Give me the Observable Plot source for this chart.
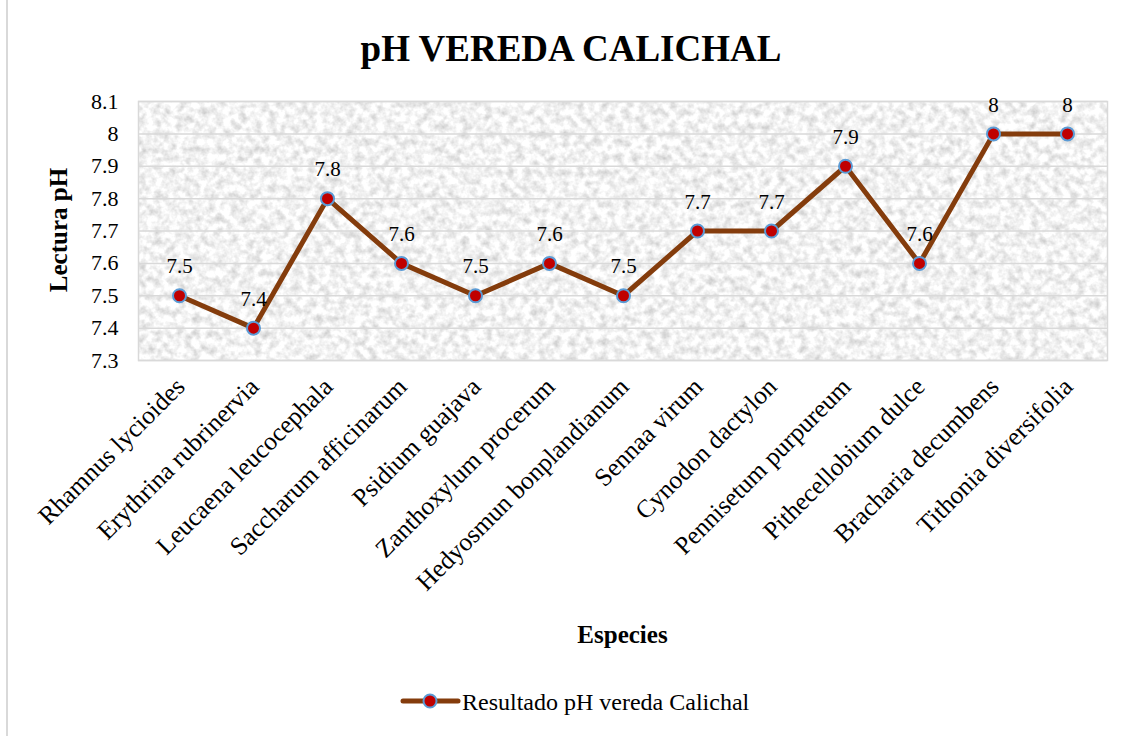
<!DOCTYPE html>
<html><head><meta charset="utf-8">
<script src="https://cdn.jsdelivr.net/npm/d3@7"></script>
<script src="https://cdn.jsdelivr.net/npm/@observablehq/plot@0.6"></script>
<style>
body{margin:0;background:#fff;}
#wrap{position:relative;width:1126px;height:736px;overflow:hidden;font-family:"Liberation Serif","Times New Roman",serif;color:#000;}
#border{position:absolute;left:6px;top:-3px;width:1200px;height:800px;border:2px solid #d9d9d9;box-sizing:border-box;}
#chart{position:absolute;left:0;top:0;}
#chart svg text{font-family:"Liberation Serif","Times New Roman",serif;}
.t{position:absolute;line-height:1;white-space:nowrap;}
#title{left:7px;width:1128px;text-align:center;top:30px;font-size:37px;font-weight:bold;}
#xt{left:0;width:1245px;text-align:center;top:622px;font-size:25px;font-weight:bold;}
#yt{left:58px;top:230px;font-size:25px;font-weight:bold;transform:translate(-50%,-50%) rotate(-90deg);}
#legsym{position:absolute;left:400px;top:690px;}
#legtxt{left:462px;top:690px;font-size:24px;}
</style></head>
<body>
<div id="wrap">
  <div id="border"></div>
  <div id="chart"></div>
  <div class="t" id="title"></div>
  <div class="t" id="xt"></div>
  <div class="t" id="yt"></div>
  <svg id="legsym" width="62" height="22"></svg>
  <div class="t" id="legtxt"></div>
</div>
<script>
const chartTitle = "pH VEREDA CALICHAL";
const xTitle = "Especies";
const yTitle = "Lectura pH";
const seriesName = "Resultado pH vereda Calichal";
const species = ["Rhamnus lycioides","Erythrina rubrinervia","Leucaena leucocephala","Saccharum afficinarum","Psidium guajava","Zanthoxylum procerum","Hedyosmun bonplandianum","Sennaa virum","Cynodon dactylon","Pennisetum purpureum","Pithecellobium dulce","Bracharia decumbens","Tithonia diversifolia"];
const phValues = [7.5,7.4,7.8,7.6,7.5,7.6,7.5,7.7,7.7,7.9,7.6,8,8];
const yTicks = [7.3,7.4,7.5,7.6,7.7,7.8,7.9,8,8.1];

const lineColor = "#843c0c", dotFill = "#c00000", dotStroke = "#5b9bd5";
const rows = species.map((s,i)=>({species:s, ph:phValues[i]}));

const chart = Plot.plot({
  width:1126, height:736,
  marginTop:101, marginBottom:376, marginLeft:138, marginRight:19,
  style:{fontFamily:"Liberation Serif, Times New Roman, serif", background:"transparent", overflow:"visible", color:"#000"},
  x:{type:"point", domain:species, padding:0.5, label:null},
  y:{domain:[7.3,8.1], label:null},
  marks:[
    Plot.frame({fill:"#eeeeee"}),
    Plot.gridY(yTicks, {stroke:"#d9d9d9", strokeOpacity:1, strokeWidth:1.5}),
    Plot.frame({stroke:"#d9d9d9", strokeWidth:1.5}),
    Plot.axisY(yTicks, {tickSize:0, tickPadding:20, fontSize:22, tickFormat:d=>String(+d.toFixed(1)), label:null}),
    Plot.axisX({tickSize:0, tickPadding:8, dy:14, dx:1, tickRotate:-45, fontSize:25.5, label:null}),
    Plot.line(rows,{x:"species", y:"ph", stroke:lineColor, strokeWidth:5, strokeLinejoin:"round"}),
    Plot.dot(rows,{x:"species", y:"ph", r:6.5, fill:dotFill, stroke:dotStroke, strokeWidth:2}),
    Plot.text(rows,{x:"species", y:"ph", text:d=>String(d.ph), dy:-29, fontSize:21})
  ]
});
document.getElementById("chart").appendChild(chart);

// grainy texture on plot background
const svgSel = d3.select(chart);
const defs = svgSel.insert("defs", ":first-child");
const f = defs.append("filter").attr("id","grain").attr("x",0).attr("y",0).attr("width",1).attr("height",1)
  .attr("color-interpolation-filters","sRGB");
f.append("feTurbulence").attr("type","fractalNoise").attr("baseFrequency","0.13").attr("numOctaves",3).attr("seed",7).attr("result","n");
f.append("feColorMatrix").attr("in","n").attr("type","matrix")
  .attr("values","0.36 0 0 0 0.77  0.36 0 0 0 0.77  0.36 0 0 0 0.77  0 0 0 0 1").attr("result","g");
f.append("feComposite").attr("in","g").attr("in2","SourceGraphic").attr("operator","in");
const frames = chart.querySelectorAll('[aria-label="frame"]');
if (frames.length) {
  const fr = frames[0].tagName.toLowerCase()==="rect" ? frames[0] : frames[0].querySelector("rect");
  if (fr) fr.setAttribute("filter","url(#grain)");
}

document.getElementById("title").textContent = chartTitle;
document.getElementById("xt").textContent = xTitle;
document.getElementById("yt").textContent = yTitle;
document.getElementById("legtxt").textContent = seriesName;
const lg = d3.select("#legsym");
lg.append("line").attr("x1",3).attr("x2",58).attr("y1",11).attr("y2",11).attr("stroke",lineColor).attr("stroke-width",5).attr("stroke-linecap","round");
lg.append("circle").attr("cx",30).attr("cy",11).attr("r",6.5).attr("fill",dotFill).attr("stroke",dotStroke).attr("stroke-width",2);
</script>
</body></html>
